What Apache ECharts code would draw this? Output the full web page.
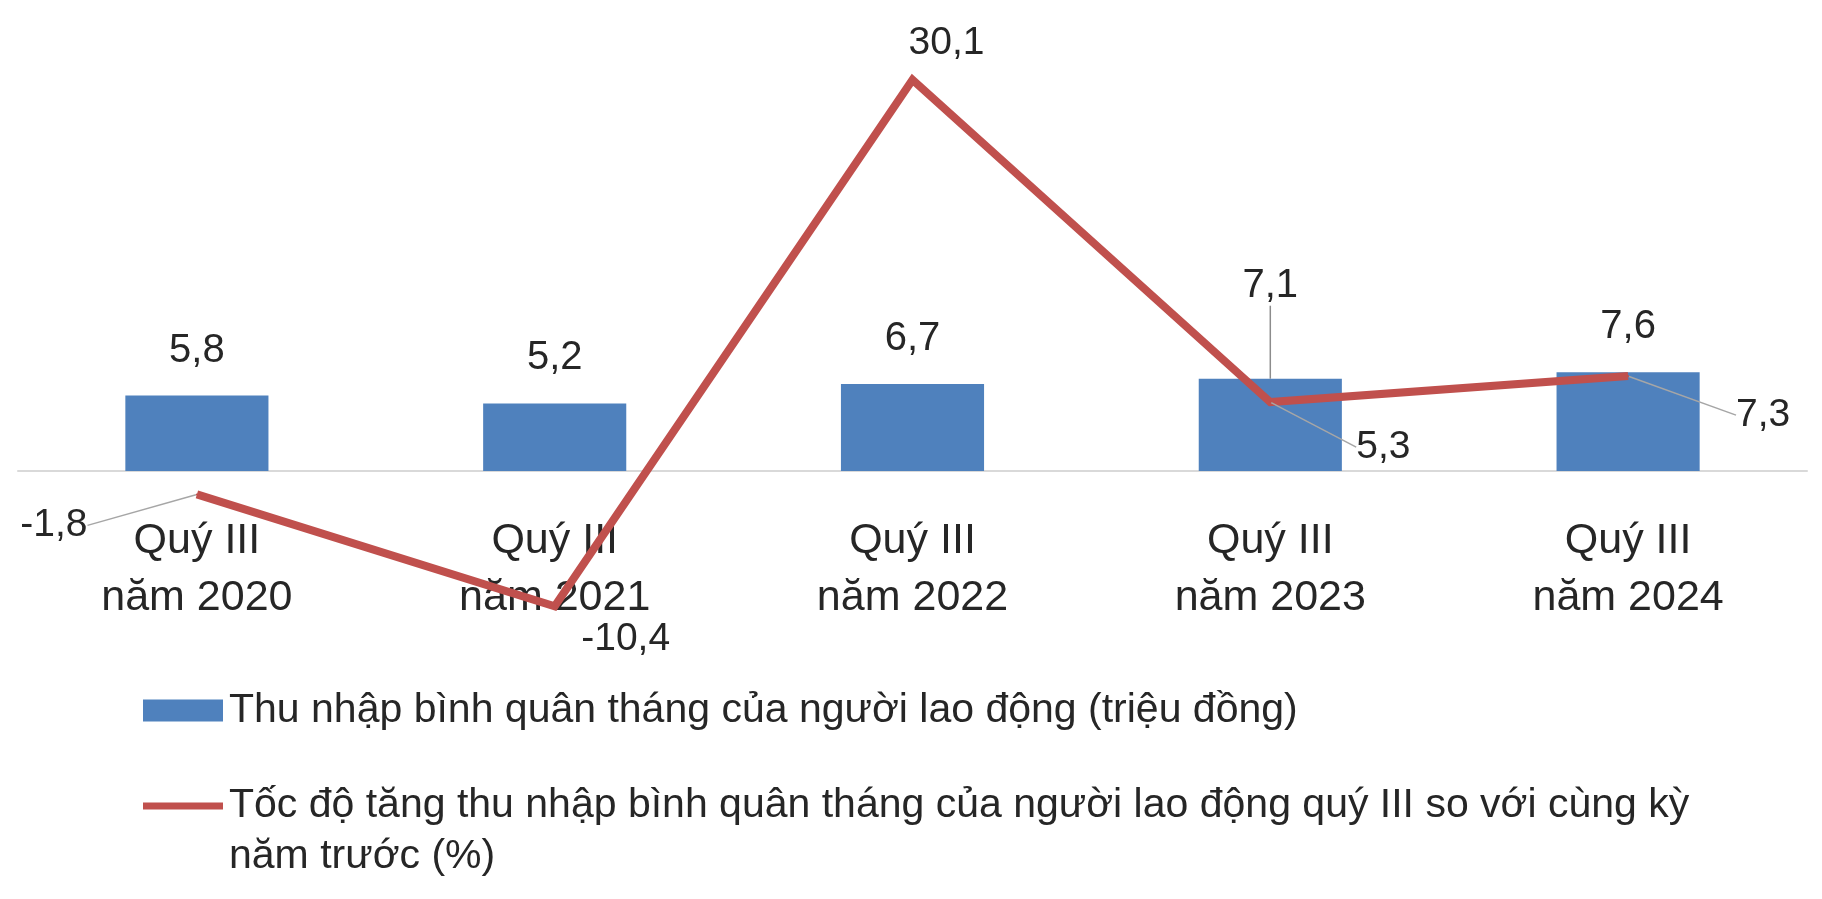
<!DOCTYPE html>
<html>
<head>
<meta charset="utf-8">
<script src="https://cdn.jsdelivr.net/npm/echarts@6/dist/echarts.min.js"></script>
<style>
html,body{margin:0;padding:0;background:#fff;}
#chart{width:1822px;height:899px;}
</style>
</head>
<body>
<div id="chart"></div>
<script>
// ---- data ----
var categories = ['Quý III\nnăm 2020', 'Quý III\nnăm 2021', 'Quý III\nnăm 2022', 'Quý III\nnăm 2023', 'Quý III\nnăm 2024'];
var incomeValues = [5.8, 5.2, 6.7, 7.1, 7.6];
var growthValues = [-1.8, -10.4, 30.1, 5.3, 7.3];
var seriesNames = [
  'Thu nhập bình quân tháng của người lao động (triệu đồng)',
  'Tốc độ tăng thu nhập bình quân tháng của người lao động quý III so với cùng kỳ năm trước (%)'
];

// ---- label placement (style only) ----
var lineLabelOffsets = [[-143, 31], [71, 33], [34, -36], [113, 45], [135, 39]];
var lineLabelLeader = [true, false, false, true, true];
var barLabelDy = [0, 0, 0, -48, 0];

var FONT = "'Liberation Sans', Arial, sans-serif";
var TXT = '#262626';

function fmt(v) { return String(v).replace('.', ','); }

var barData = incomeValues.map(function (v, i) {
  return { value: v, labelLine: { show: barLabelDy[i] !== 0 } };
});
var lineData = growthValues.map(function (v, i) {
  return { value: v, labelLine: { show: lineLabelLeader[i] } };
});

// legend icon for the line series: a thick bar at the top of a taller (invisible) box
var lineIcon = 'path://M0,0L0.01,0L0.01,0.01L0,0.01Z M0,3.5L80,3.5L80,10.5L0,10.5Z M0,63.99L0.01,63.99L0.01,64L0,64Z';

var chart = echarts.init(document.getElementById('chart'));
chart.setOption({
  animation: false,
  backgroundColor: '#ffffff',
  grid: { left: 18, right: 15, top: 16, height: 455 },
  xAxis: {
    type: 'category',
    data: categories,
    axisLine: { lineStyle: { color: '#D9D9D9', width: 2 } },
    axisTick: { show: false },
    axisLabel: {
      margin: 42, fontSize: 43, lineHeight: 57, color: TXT, fontFamily: FONT
    },
    z: 1
  },
  yAxis: {
    type: 'value', min: 0, max: 35, show: false, splitLine: { show: false }
  },
  legend: [
    {
      data: [{ name: seriesNames[0], icon: 'rect' }],
      left: 138, top: 685,
      itemWidth: 80, itemHeight: 22,
      textStyle: { fontSize: 41, color: TXT, fontFamily: FONT, padding: [0, 0, 0, 1] }
    },
    {
      data: [{ name: seriesNames[1], icon: lineIcon, itemStyle: { color: '#C0504D' } }],
      left: 138, top: 775,
      itemWidth: 80, itemHeight: 64,
      formatter: function (n) { return n.replace(' năm trước', '\nnăm trước'); },
      textStyle: { fontSize: 41, lineHeight: 51, color: TXT, fontFamily: FONT, padding: [0, 0, 0, 1] }
    }
  ],
  series: [
    {
      name: seriesNames[0],
      type: 'bar',
      data: barData,
      barWidth: '40%',
      itemStyle: { color: '#4F81BD' },
      label: {
        show: true, position: 'top', distance: 25,
        fontSize: 40, color: TXT, fontFamily: FONT,
        formatter: function (p) { return fmt(p.value); }
      },
      labelLine: { show: false, lineStyle: { color: '#8C8C8C', width: 1.5 } },
      labelLayout: function (p) { return { dy: barLabelDy[p.dataIndex] }; },
      z: 2
    },
    {
      name: seriesNames[1],
      type: 'line',
      data: lineData,
      clip: false,
      symbol: 'circle',
      symbolSize: 2,
      itemStyle: { color: '#C0504D' },
      lineStyle: { color: '#C0504D', width: 8, join: 'miter' },
      label: {
        show: true, position: 'inside',
        fontSize: 39, color: TXT, fontFamily: FONT,
        formatter: function (p) { return fmt(p.value); }
      },
      labelLine: { show: false, lineStyle: { color: '#A6A6A6', width: 1.5 } },
      labelLayout: function (p) {
        var o = lineLabelOffsets[p.dataIndex];
        var cx = p.rect.x + p.rect.width / 2, cy = p.rect.y + p.rect.height / 2;
        var lx = p.labelRect.x + p.labelRect.width / 2, ly = p.labelRect.y + p.labelRect.height / 2;
        return { dx: cx + o[0] - lx, dy: cy + o[1] - ly };
      },
      z: 3
    }
  ]
});
</script>
</body>
</html>
